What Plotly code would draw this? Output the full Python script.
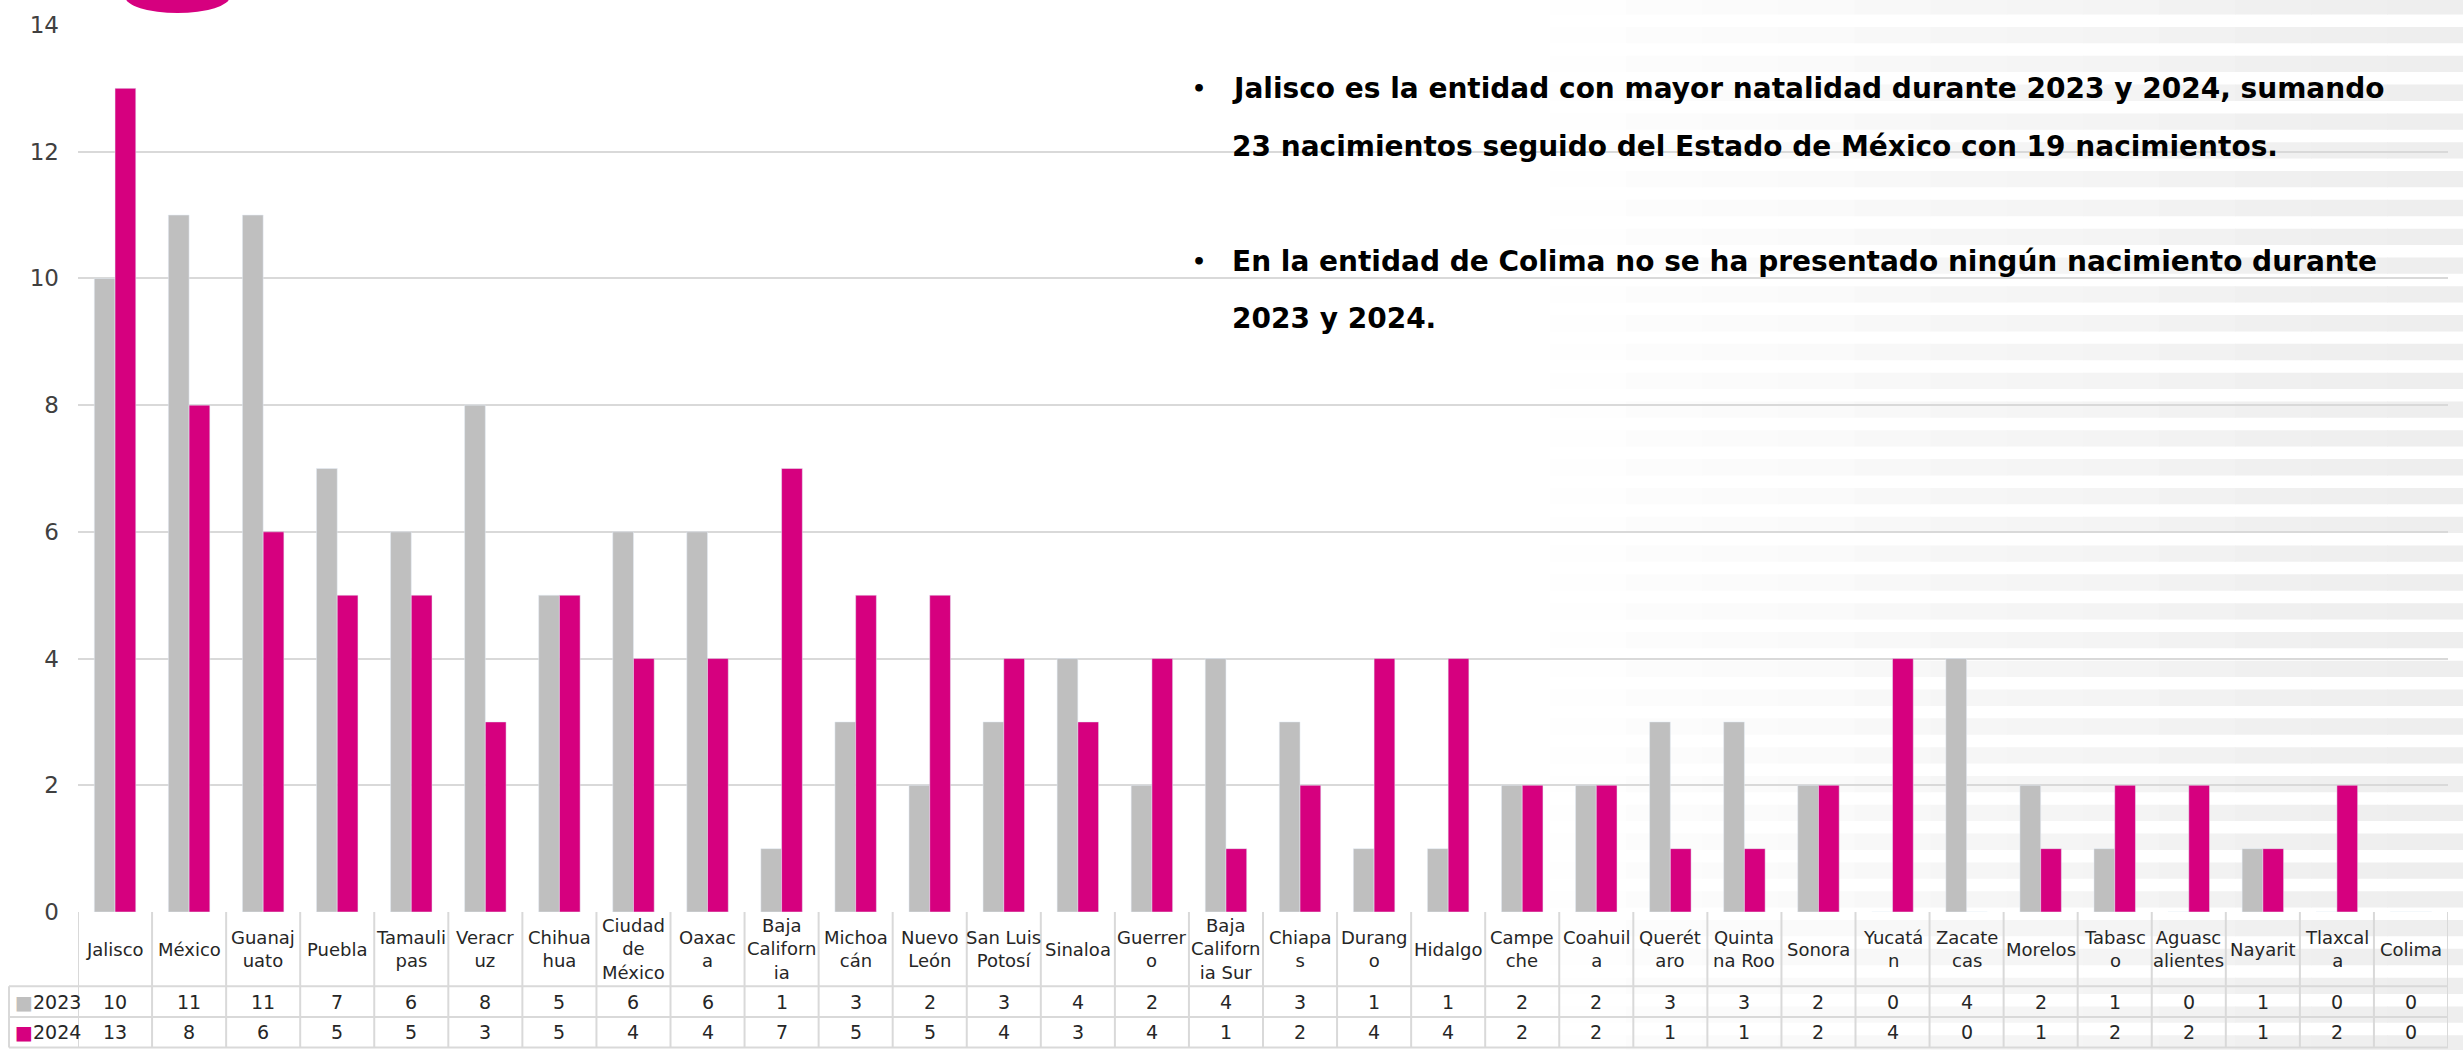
import plotly.graph_objects as go

W, H = 2463, 1050

states = ["Jalisco", "México", "Guanajuato", "Puebla", "Tamaulipas", "Veracruz", "Chihuahua",
          "Ciudad de México", "Oaxaca", "Baja California", "Michoacán", "Nuevo León",
          "San Luis Potosí", "Sinaloa", "Guerrero", "Baja California Sur", "Chiapas", "Durango",
          "Hidalgo", "Campeche", "Coahuila", "Querétaro", "Quintana Roo", "Sonora", "Yucatán",
          "Zacatecas", "Morelos", "Tabasco", "Aguascalientes", "Nayarit", "Tlaxcala", "Colima"]
labels = ["Jalisco", "México", "Guanaj<br>uato", "Puebla", "Tamauli<br>pas", "Veracr<br>uz",
          "Chihua<br>hua", "Ciudad<br>de<br>México", "Oaxac<br>a", "Baja<br>Californ<br>ia",
          "Michoa<br>cán", "Nuevo<br>León", "San Luis<br>Potosí", "Sinaloa", "Guerrer<br>o",
          "Baja<br>Californ<br>ia Sur", "Chiapa<br>s", "Durang<br>o", "Hidalgo", "Campe<br>che",
          "Coahuil<br>a", "Querét<br>aro", "Quinta<br>na Roo", "Sonora", "Yucatá<br>n",
          "Zacate<br>cas", "Morelos", "Tabasc<br>o", "Aguasc<br>alientes", "Nayarit",
          "Tlaxcal<br>a", "Colima"]
y2023 = [10, 11, 11, 7, 6, 8, 5, 6, 6, 1, 3, 2, 3, 4, 2, 4, 3, 1, 1, 2, 2, 3, 3, 2, 0, 4, 2, 1, 0, 1, 0, 0]
y2024 = [13, 8, 6, 5, 5, 3, 5, 4, 4, 7, 5, 5, 4, 3, 4, 1, 2, 4, 4, 2, 2, 1, 1, 2, 4, 0, 1, 2, 2, 1, 2, 0]
notes = [
    "Jalisco es la entidad con mayor natalidad durante 2023 y 2024, sumando",
    "23 nacimientos seguido del Estado de México con 19 nacimientos.",
    "En la entidad de Colima no se ha presentado ningún nacimiento durante",
    "2023 y 2024.",
]

GRAY = "#BFBFBF"
PINK = "#D6007F"
LINE = "#D9D9D9"
TXT = "#262626"
FONT = "DejaVu Sans"

# plot area in pixels
L, R, T, B = 78, 2448, 16, 912


def px(x):
    return (x - L) / (R - L)


def py(y):
    return (B - y) / (B - T)


fig = go.Figure()
fig.add_bar(x=states, y=y2023, name="2023", marker_color=GRAY)
fig.add_bar(x=states, y=y2024, name="2024", marker_color=PINK)

shapes = []
# striped background on the right, fading in from the left
for k in range(37):
    top = 18 + (k - 1) * 29.1
    for s in range(12):
        x0 = 1550 + s * 76.1
        c = 254 - s * 1.5
        shapes.append(dict(type="rect", xref="paper", yref="paper", layer="below",
                           x0=px(x0), x1=px(x0 + 77), y0=py(top), y1=py(top + 16.5),
                           fillcolor=f"rgb({c:.0f},{c:.0f},{c:.0f})", line_width=0))
# pink logo edge at top left
shapes.append(dict(type="circle", xref="paper", yref="paper", x0=px(125), x1=px(230),
                   y0=py(4), y1=py(-30), fillcolor=PINK, line_width=0))

# data table grid
for yy in [987, 1018, 1049]:
    shapes.append(dict(type="line", xref="paper", yref="paper", x0=px(9), x1=px(R),
                       y0=py(yy), y1=py(yy), line=dict(color=LINE, width=2)))
shapes.append(dict(type="line", xref="paper", yref="paper", x0=px(9), x1=px(9),
                   y0=py(987), y1=py(1049), line=dict(color=LINE, width=2)))
for i in range(len(states) + 1):
    shapes.append(dict(type="line", xref="x", yref="paper", x0=i - 0.5, x1=i - 0.5,
                       y0=py(B), y1=py(1049), line=dict(color=LINE, width=2)))

ann = []
for i, lab in enumerate(labels):
    ann.append(dict(x=i, xref="x", y=py(949.5), yref="paper", text=lab, showarrow=False,
                    xanchor="center", yanchor="middle", font=dict(size=18, color=TXT)))
    ann.append(dict(x=i, xref="x", y=py(1002.5), yref="paper", text=str(y2023[i]),
                    xanchor="center", yanchor="middle", showarrow=False,
                    font=dict(size=19, color=TXT)))
    ann.append(dict(x=i, xref="x", y=py(1033.5), yref="paper", text=str(y2024[i]),
                    xanchor="center", yanchor="middle", showarrow=False,
                    font=dict(size=19, color=TXT)))
for yy, name, col in [(1002.5, "2023", GRAY), (1033.5, "2024", PINK)]:
    ann.append(dict(x=px(13), xref="paper", y=py(yy), yref="paper", xanchor="left",
                    yanchor="middle", text=f"<span style='color:{col}'>■</span>{name}",
                    showarrow=False, font=dict(size=19, color=TXT)))

for yy, t in zip([80, 139, 255, 312], notes):
    ann.append(dict(x=px(1230), xref="paper", y=py(yy), yref="paper", xanchor="left",
                    yanchor="middle", text=f"<b>{t}</b>", showarrow=False,
                    font=dict(size=28, color="#000000")))
for yy in [80, 255]:
    ann.append(dict(x=px(1199), xref="paper", y=py(yy), yref="paper", xanchor="center",
                    yanchor="middle", text="<b>•</b>", showarrow=False,
                    font=dict(size=22, color="#000000")))

fig.update_layout(
    width=W, height=H,
    margin=dict(l=L, r=W - R, t=T, b=H - B),
    paper_bgcolor="white", plot_bgcolor="rgba(0,0,0,0)",
    font=dict(family=FONT),
    barmode="group", bargap=0.44, bargroupgap=0,
    showlegend=False,
    shapes=shapes, annotations=ann,
)
fig.update_xaxes(showticklabels=False, showgrid=False, zeroline=False, showline=False,
                 range=[-0.5, len(states) - 0.5])
fig.update_yaxes(range=[0, 14], dtick=2, gridcolor=LINE, gridwidth=2, zeroline=False,
                 showline=False, ticklabelstandoff=18, tickfont=dict(size=23, color="#404040"))

fig.write_html("out.html", config={"displayModeBar": False},
               post_script="document.body.style.margin='0';")
